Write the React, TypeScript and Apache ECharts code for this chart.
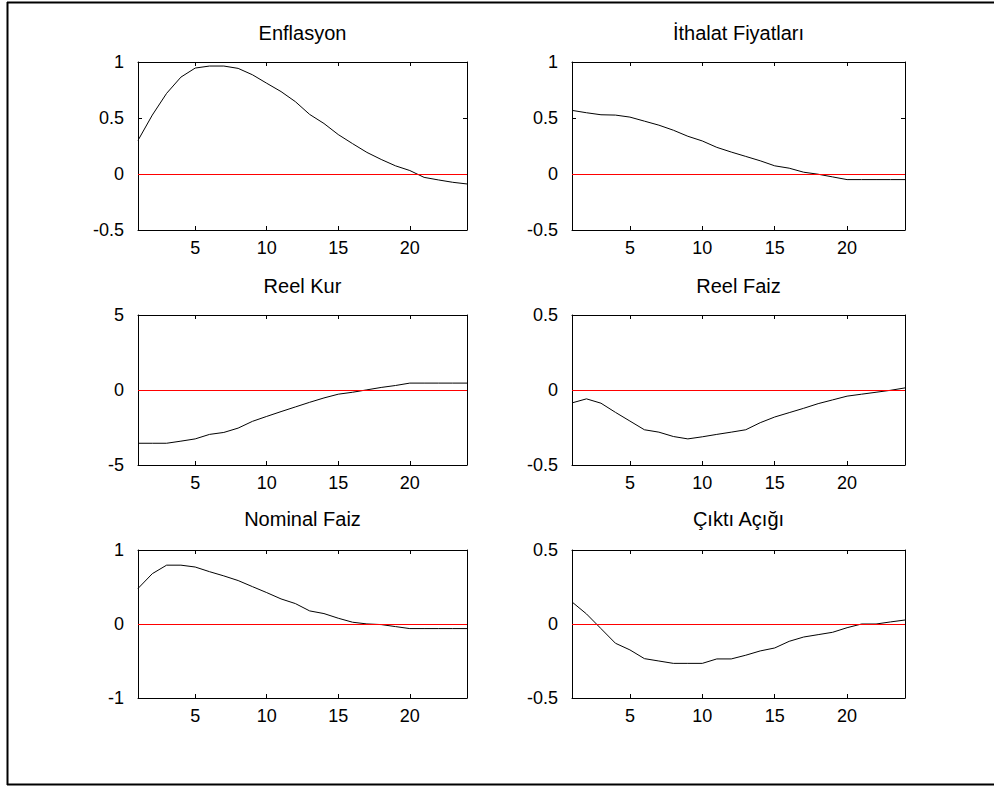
import React, { useEffect, useRef } from "react";
import * as echarts from "echarts";

const periods = Array.from({ length: 24 }, (_, i) => i + 1);
const xTickValues = [5, 10, 15, 20];

const titles = ["Enflasyon", "İthalat Fiyatları", "Reel Kur", "Reel Faiz", "Nominal Faiz", "Çıktı Açığı"];

const enflasyon = [0.30, 0.526, 0.72, 0.865, 0.946, 0.964, 0.964, 0.943, 0.886, 0.81, 0.736, 0.646, 0.532, 0.451, 0.352, 0.271, 0.193, 0.13, 0.073, 0.031, -0.03, -0.053, -0.074, -0.089];
const ithalat = [0.568, 0.547, 0.529, 0.526, 0.508, 0.472, 0.436, 0.391, 0.337, 0.295, 0.238, 0.196, 0.157, 0.118, 0.073, 0.052, 0.016, -0.002, -0.026, -0.05, -0.05, -0.05, -0.05, -0.05];
const reelKur = [-3.55, -3.55, -3.55, -3.41, -3.26, -2.96, -2.83, -2.54, -2.09, -1.76, -1.44, -1.13, -0.82, -0.53, -0.28, -0.15, 0.01, 0.17, 0.30, 0.46, 0.46, 0.46, 0.46, 0.46];
const reelFaiz = [-0.086, -0.059, -0.088, -0.149, -0.207, -0.265, -0.281, -0.31, -0.326, -0.312, -0.296, -0.281, -0.265, -0.218, -0.18, -0.151, -0.122, -0.091, -0.066, -0.041, -0.028, -0.015, -0.002, 0.014];
const nominalFaiz = [0.48, 0.68, 0.795, 0.795, 0.77, 0.707, 0.65, 0.587, 0.505, 0.424, 0.339, 0.276, 0.177, 0.141, 0.078, 0.024, 0.001, -0.008, -0.035, -0.062, -0.062, -0.062, -0.062, -0.062];
const ciktiAcigi = [0.149, 0.068, -0.031, -0.13, -0.175, -0.234, -0.25, -0.266, -0.266, -0.266, -0.236, -0.236, -0.211, -0.182, -0.162, -0.117, -0.088, -0.072, -0.056, -0.025, 0.0, 0.0, 0.014, 0.027];

const seriesValues = [enflasyon, ithalat, reelKur, reelFaiz, nominalFaiz, ciktiAcigi];
const yMins = [-0.5, -0.5, -5, -0.5, -1, -0.5];
const yMaxs = [1, 1, 5, 0.5, 1, 0.5];
const yIntervals = [0.5, 0.5, 5, 0.5, 1, 0.5];

const FONT = "'Liberation Sans', Arial, sans-serif";

const grids = [
  { left: 138, top: 62, width: 329, height: 168 },
  { left: 572, top: 62, width: 333, height: 168 },
  { left: 138, top: 315, width: 329, height: 150 },
  { left: 572, top: 315, width: 333, height: 150 },
  { left: 138, top: 550, width: 329, height: 148 },
  { left: 572, top: 550, width: 333, height: 148 },
];
const titleY = [34, 287, 520];

export default function App() {
  const ref = useRef<HTMLDivElement>(null);
  useEffect(() => {
    if (!ref.current) return;
    const chart = echarts.init(ref.current, undefined, { renderer: "svg" });
    const mkLine = () => ({ show: true, onZero: false, lineStyle: { color: "#000", width: 1 } });
    const xAxes: any[] = [];
    const yAxes: any[] = [];
    const series: any[] = [];
    const titleOpts: any[] = [];
    grids.forEach((g, i) => {
      xAxes.push({
        type: "value", gridIndex: i, min: 1, max: 24, splitLine: { show: false },
        position: "bottom",
        axisLine: mkLine(),
        axisTick: { inside: true, length: 4, customValues: xTickValues, lineStyle: { color: "#000" } },
        axisLabel: { customValues: xTickValues, color: "#000", fontSize: 18, fontFamily: FONT, margin: 9 },
      });
      xAxes.push({
        type: "value", gridIndex: i, min: 1, max: 24, splitLine: { show: false },
        position: "top",
        axisLine: mkLine(),
        axisTick: { inside: true, length: 4, customValues: xTickValues, lineStyle: { color: "#000" } },
        axisLabel: { show: false },
      });
      yAxes.push({
        type: "value", gridIndex: i, min: yMins[i], max: yMaxs[i], interval: yIntervals[i], splitLine: { show: false },
        position: "left",
        axisLine: mkLine(),
        axisTick: { inside: true, length: 4, lineStyle: { color: "#000" } },
        axisLabel: { color: "#000", fontSize: 18, fontFamily: FONT, margin: 14 },
      });
      yAxes.push({
        type: "value", gridIndex: i, min: yMins[i], max: yMaxs[i], interval: yIntervals[i], splitLine: { show: false },
        position: "right",
        axisLine: mkLine(),
        axisTick: { inside: true, length: 4, lineStyle: { color: "#000" } },
        axisLabel: { show: false },
      });
      series.push({
        type: "line",
        xAxisIndex: 2 * i,
        yAxisIndex: 2 * i,
        data: periods.map((p, k) => [p, seriesValues[i][k]]),
        showSymbol: false,
        symbol: "none",
        lineStyle: { color: "#000", width: 1 },
        silent: true,
        markLine: {
          silent: true,
          symbol: "none",
          label: { show: false },
          lineStyle: { color: "#ff0000", width: 1, type: "solid" },
          data: [{ yAxis: 0 }],
        },
        z: 3,
      });
      titleOpts.push({
        text: titles[i],
        left: g.left + g.width / 2,
        top: titleY[Math.floor(i / 2)] - 11,
        textAlign: "center",
        padding: 0,
        textStyle: { fontSize: 20, fontWeight: "normal", color: "#000", fontFamily: FONT },
      });
    });
    chart.setOption({
      animation: false,
      backgroundColor: "#fff",
      title: titleOpts,
      grid: grids.map((g) => ({ ...g, containLabel: false })),
      xAxis: xAxes,
      yAxis: yAxes,
      series,
      graphic: [
        { type: "line", shape: { x1: 7, y1: 2.5, x2: 994, y2: 2.5 }, style: { stroke: "#000", lineWidth: 2 } },
        { type: "line", shape: { x1: 7.5, y1: 2, x2: 7.5, y2: 785 }, style: { stroke: "#000", lineWidth: 2 } },
        { type: "line", shape: { x1: 7, y1: 784.5, x2: 994, y2: 784.5 }, style: { stroke: "#000", lineWidth: 2 } },
      ],
    });
    return () => chart.dispose();
  }, []);
  return <div ref={ref} style={{ position: "fixed", left: 0, top: 0, width: 994, height: 787 }} />;
}
